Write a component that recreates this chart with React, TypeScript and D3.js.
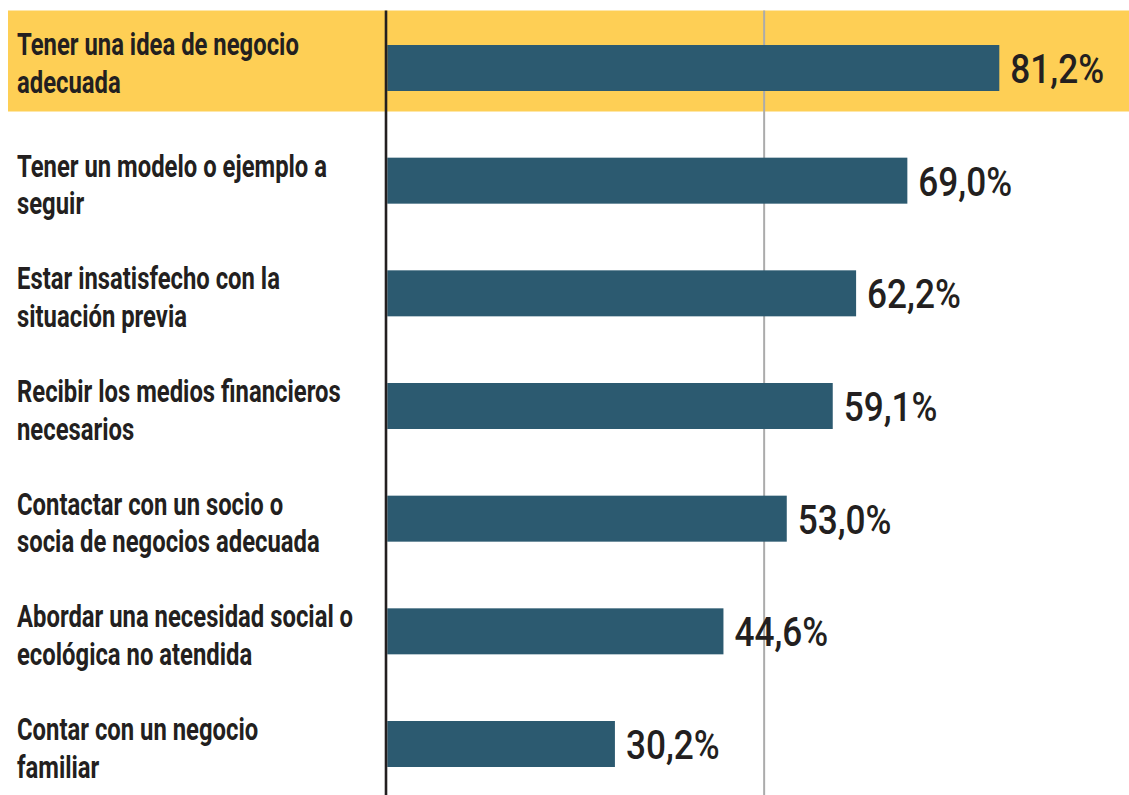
import React from "react";
import * as d3 from "d3";

const categories: string[][] = [
  ["Tener una idea de negocio", "adecuada"],
  ["Tener un modelo o ejemplo a", "seguir"],
  ["Estar insatisfecho con la", "situación previa"],
  ["Recibir los medios financieros", "necesarios"],
  ["Contactar con un socio o", "socia de negocios adecuada"],
  ["Abordar una necesidad social o", "ecológica no atendida"],
  ["Contar con un negocio", "familiar"],
];
const values: number[] = [81.2, 69.0, 62.2, 59.1, 53.0, 44.6, 30.2];
const gridTicks: number[] = [50];
const highlightIndex = 0;

const W = 1129;
const H = 795;
const BAR = "#2c5a70";
const YELLOW = "#fecf55";
const INK = "#231f20";
const LABEL_FONT = "Roboto, sans-serif";
const LABEL_SIZE = 31;

function labelScale(): number {
  try {
    const cv = document.createElement("canvas");
    const ctx = cv.getContext("2d");
    if (!ctx) return 0.76;
    ctx.font = `700 ${LABEL_SIZE}px Roboto, sans-serif`;
    const w = ctx.measureText(categories[0][0]).width;
    return w > 0 ? 282 / w : 0.76;
  } catch {
    return 0.76;
  }
}

export default function App() {
  const sx = React.useMemo(labelScale, []);
  const x = d3.scaleLinear().domain([0, 100]).range([387.3, 1141]);
  const idx = d3.range(categories.length);
  const y = d3.scalePoint<number>().domain(idx).range([68, 744]);
  const barH = 46;
  const fmt = (v: number) => v.toFixed(1).replace(".", ",") + "%";
  const c0 = y(highlightIndex)!;
  const bandTop = c0 - 57.5;
  const bandBottom = c0 + 43.5;
  const bandCenter = (bandTop + bandBottom) / 2;

  return (
    <svg
      width={W}
      height={H}
      style={{ position: "absolute", left: 0, top: 0, background: "#fff" }}
    >
      <rect x={8} y={bandTop} width={W - 8} height={bandBottom - bandTop} fill={YELLOW} />
      {gridTicks.map((t) => (
        <line key={t} x1={x(t)} x2={x(t)} y1={bandTop} y2={H} stroke="#ababab" strokeWidth={2} />
      ))}
      {idx.map((i) => {
        const c = y(i)!;
        const b1 = i === highlightIndex ? bandCenter - 6 : c - 4;
        return (
          <g key={i}>
            <rect x={x(0)} y={c - barH / 2} width={x(values[i]) - x(0)} height={barH} fill={BAR} />
            <text
              transform={`translate(${x(values[i]) + 11},${c + 15}) scale(0.88,1)`}
              fontFamily="Roboto, sans-serif"
              fontWeight={500}
              fontSize={40}
              fill={INK}
            >
              {fmt(values[i])}
            </text>
            {categories[i].map((line, j) => (
              <text
                key={j}
                transform={`translate(17,${b1 + j * 37.5}) scale(${sx},1)`}
                fontFamily={LABEL_FONT}
                fontWeight={700}
                fontSize={LABEL_SIZE}
                fill={INK}
              >
                {line}
              </text>
            ))}
          </g>
        );
      })}
      <line x1={386} x2={386} y1={bandTop} y2={H} stroke={INK} strokeWidth={2.6} />
    </svg>
  );
}
